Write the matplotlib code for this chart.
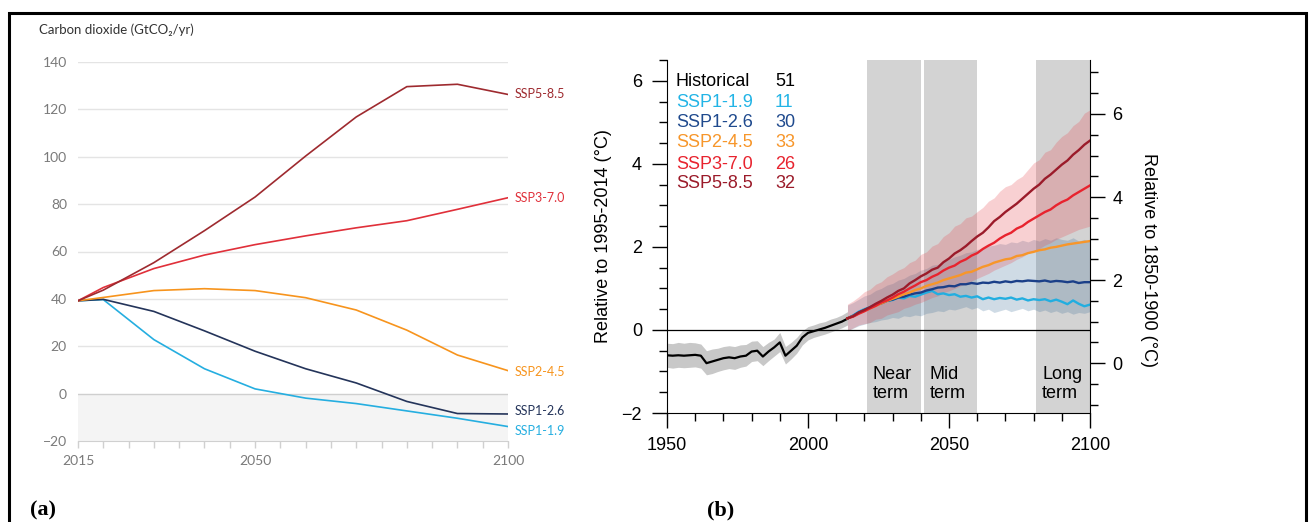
import matplotlib
matplotlib.use("Agg")
import matplotlib.pyplot as plt
import numpy as np
from matplotlib.patches import Rectangle
from matplotlib.ticker import MultipleLocator

# ---------------- data : panel (a) CO2 emissions ----------------
co2_years = [2015, 2020, 2030, 2040, 2050, 2060, 2070, 2080, 2090, 2100]
co2_ssp119 = [39.2, 39.7, 22.8, 10.5, 2.0, -1.9, -4.2, -7.3, -10.4, -13.9]
co2_ssp126 = [39.2, 39.8, 34.7, 26.5, 17.9, 10.5, 4.5, -3.3, -8.4, -8.6]
co2_ssp245 = [39.2, 40.6, 43.5, 44.3, 43.5, 40.5, 35.3, 26.8, 16.3, 9.7]
co2_ssp370 = [39.2, 44.8, 52.8, 58.5, 62.9, 66.6, 70.0, 73.0, 77.8, 82.7]
co2_ssp585 = [39.2, 43.7, 55.3, 68.8, 83.0, 100.3, 116.8, 129.6, 130.6, 126.3]
co2_names = ["SSP1-1.9", "SSP1-2.6", "SSP2-4.5", "SSP3-7.0", "SSP5-8.5"]

# ---------------- data : panel (b) temperature ----------------
hist_years = list(range(1950, 2015, 2))
hist_mean = [-0.61, -0.62, -0.61, -0.62, -0.61, -0.60, -0.62, -0.80, -0.76, -0.72,
             -0.68, -0.66, -0.68, -0.64, -0.62, -0.52, -0.50, -0.64, -0.52, -0.42,
             -0.30, -0.62, -0.50, -0.38, -0.18, -0.07, -0.03, 0.01, 0.05, 0.10,
             0.15, 0.20, 0.27]
hist_hi = [-0.32, -0.33, -0.30, -0.32, -0.30, -0.31, -0.34, -0.50, -0.46, -0.44,
           -0.40, -0.38, -0.40, -0.36, -0.35, -0.27, -0.26, -0.40, -0.30, -0.22,
           -0.06, -0.40, -0.30, -0.18, -0.02, 0.08, 0.12, 0.17, 0.20, 0.26,
           0.30, 0.36, 0.44]
hist_lo = [-0.90, -0.92, -0.90, -0.91, -0.90, -0.89, -0.92, -1.08, -1.05, -1.00,
           -0.96, -0.93, -0.95, -0.90, -0.87, -0.76, -0.74, -0.86, -0.74, -0.63,
           -0.52, -0.82, -0.70, -0.56, -0.36, -0.24, -0.18, -0.14, -0.10, -0.05,
           0.00, 0.05, 0.12]

fut_years = list(range(2014, 2101, 2))
t_ssp119 = [0.28, 0.35, 0.44, 0.50, 0.55, 0.62, 0.66, 0.70, 0.72, 0.78, 0.76,
            0.82, 0.80, 0.85, 0.90, 0.94, 0.86, 0.88, 0.84, 0.86, 0.80, 0.82,
            0.78, 0.81, 0.74, 0.78, 0.74, 0.77, 0.75, 0.78, 0.73, 0.76, 0.71,
            0.74, 0.72, 0.74, 0.69, 0.73, 0.68, 0.62, 0.71, 0.63, 0.57, 0.61]
t_ssp126 = [0.28, 0.34, 0.42, 0.48, 0.54, 0.60, 0.64, 0.70, 0.73, 0.78, 0.80,
            0.85, 0.88, 0.90, 0.95, 0.98, 1.02, 1.03, 1.06, 1.05, 1.10, 1.10,
            1.13, 1.11, 1.14, 1.13, 1.16, 1.14, 1.17, 1.15, 1.18, 1.17, 1.19,
            1.18, 1.17, 1.19, 1.16, 1.18, 1.17, 1.15, 1.17, 1.13, 1.15, 1.15]
t_ssp245 = [0.28, 0.33, 0.40, 0.46, 0.52, 0.58, 0.64, 0.70, 0.75, 0.80, 0.86,
            0.90, 0.96, 1.00, 1.06, 1.10, 1.14, 1.20, 1.24, 1.28, 1.32, 1.38,
            1.40, 1.46, 1.52, 1.56, 1.62, 1.66, 1.70, 1.72, 1.78, 1.80, 1.85,
            1.88, 1.92, 1.94, 1.98, 2.00, 2.03, 2.06, 2.08, 2.10, 2.12, 2.14]
t_ssp370 = [0.28, 0.32, 0.39, 0.45, 0.52, 0.58, 0.66, 0.71, 0.78, 0.86, 0.92,
            1.00, 1.07, 1.15, 1.20, 1.28, 1.34, 1.43, 1.50, 1.55, 1.64, 1.70,
            1.79, 1.85, 1.95, 2.03, 2.10, 2.20, 2.28, 2.34, 2.44, 2.50, 2.60,
            2.68, 2.76, 2.84, 2.90, 3.00, 3.08, 3.14, 3.24, 3.32, 3.40, 3.48]
t_ssp585 = [0.28, 0.33, 0.42, 0.48, 0.55, 0.63, 0.70, 0.78, 0.85, 0.94, 1.00,
            1.12, 1.20, 1.29, 1.36, 1.45, 1.50, 1.63, 1.72, 1.84, 1.92, 2.02,
            2.14, 2.25, 2.34, 2.47, 2.62, 2.72, 2.84, 2.94, 3.04, 3.16, 3.28,
            3.40, 3.50, 3.64, 3.74, 3.86, 3.98, 4.08, 4.22, 4.33, 4.46, 4.56]

# 5-95% ranges (only SSP1-2.6 and SSP3-7.0 are shaded)
t_ssp126_hi = [0.60, 0.66, 0.74, 0.82, 0.86, 0.95, 1.00, 1.08, 1.12, 1.20, 1.24,
               1.32, 1.36, 1.44, 1.48, 1.56, 1.58, 1.66, 1.70, 1.76, 1.80, 1.86,
               1.88, 1.94, 1.96, 2.02, 2.04, 2.08, 2.06, 2.12, 2.10, 2.16, 2.12,
               2.18, 2.14, 2.20, 2.16, 2.22, 2.18, 2.16, 2.22, 2.14, 2.18, 2.12]
t_ssp126_lo = [-0.02, 0.04, 0.10, 0.14, 0.18, 0.20, 0.24, 0.26, 0.30, 0.28, 0.34,
               0.32, 0.36, 0.34, 0.40, 0.42, 0.46, 0.44, 0.50, 0.48, 0.52, 0.56,
               0.50, 0.54, 0.46, 0.50, 0.42, 0.46, 0.50, 0.44, 0.48, 0.52, 0.46,
               0.50, 0.44, 0.48, 0.42, 0.46, 0.40, 0.44, 0.38, 0.42, 0.40, 0.44]
t_ssp370_hi = [0.62, 0.70, 0.80, 0.92, 0.98, 1.10, 1.16, 1.28, 1.35, 1.44, 1.50,
               1.62, 1.68, 1.82, 1.88, 2.02, 2.08, 2.25, 2.34, 2.50, 2.56, 2.70,
               2.74, 2.85, 2.95, 3.10, 3.18, 3.34, 3.45, 3.50, 3.62, 3.70, 3.86,
               4.02, 4.10, 4.28, 4.34, 4.52, 4.66, 4.75, 4.92, 5.02, 5.22, 5.30]
t_ssp370_lo = [-0.02, 0.05, 0.12, 0.15, 0.18, 0.26, 0.28, 0.36, 0.40, 0.44, 0.52,
               0.56, 0.62, 0.66, 0.72, 0.78, 0.82, 0.90, 0.94, 1.00, 1.06, 1.12,
               1.18, 1.24, 1.30, 1.36, 1.44, 1.50, 1.56, 1.62, 1.70, 1.76, 1.84,
               1.90, 1.96, 2.04, 2.10, 2.18, 2.24, 2.30, 2.36, 2.42, 2.46, 2.50]

legend_names = ["Historical", "SSP1-1.9", "SSP1-2.6", "SSP2-4.5", "SSP3-7.0", "SSP5-8.5"]
legend_counts = ["51", "11", "30", "33", "26", "32"]
terms = [("Near\nterm", 2021, 2040), ("Mid\nterm", 2041, 2060), ("Long\nterm", 2081, 2100)]
offset_pi = 0.8   # 1995-2014 relative to 1850-1900

# colours
a_cols = ["#25aee0", "#24345a", "#f7941d", "#e0303a", "#9e2a2f"]
b_cols = ["#22aee0", "#1b3f88", "#f7962a", "#e8232e", "#9b1b2a"]
b_text_cols = ["#000000", "#22b4e6", "#1f4a8e", "#f7962a", "#e8232e", "#9b1b2a"]

W, H = 1311, 522
fig = plt.figure(figsize=(W / 100, H / 100), dpi=100)

# ================= panel (a) =================
lato = ["Lato", "DejaVu Sans"]
ax1 = fig.add_axes([78 / W, 1 - 441 / H, 430 / W, 379 / H])
ax1.axhspan(-20, 0, color="#f4f4f4", lw=0, zorder=0)
for gy in range(20, 141, 20):
    ax1.axhline(gy, color="#e4e4e4", lw=1.0, zorder=1)
ax1.axhline(0, color="#cfcfcf", lw=1.0, zorder=1)

co2_series = [co2_ssp119, co2_ssp126, co2_ssp245, co2_ssp370, co2_ssp585]
label_dy = [-3, 2, -1, 0, 0]
for vals, name, col, dy in zip(co2_series, co2_names, a_cols, label_dy):
    ax1.plot(co2_years, vals, color=col, lw=1.2, zorder=3)
    ax1.annotate(name, xy=(co2_years[-1], vals[-1]), xytext=(5, dy),
                 textcoords="offset points", va="center", ha="left",
                 color=col, fontsize=9, family=lato, annotation_clip=False)

ax1.set_xlim(2015, 2100)
ax1.set_ylim(-20, 140)
for s in ["left", "right", "top"]:
    ax1.spines[s].set_visible(False)
ax1.spines["bottom"].set_color("#d0d0d0")
ax1.set_yticks(range(-20, 141, 20))
ax1.set_xticks([2015, 2050, 2100])
ax1.xaxis.set_minor_locator(MultipleLocator(5))
ax1.tick_params(axis="y", length=0, pad=8, labelsize=10, labelcolor="#7a7a7a")
ax1.tick_params(axis="x", which="both", length=5, color="#d0d0d0", width=1,
                pad=5, labelsize=10, labelcolor="#7a7a7a")
for lab in ax1.get_xticklabels() + ax1.get_yticklabels():
    lab.set_family(lato)
fig.text(39 / W, 1 - 30 / H, "Carbon dioxide (GtCO\u2082/yr)", ha="left", va="center",
         fontsize=9.5, color="#333333", family=lato)

# ================= panel (b) =================
arial = ["Liberation Sans", "DejaVu Sans"]
ax2 = fig.add_axes([667 / W, 1 - 413 / H, 423 / W, 353 / H])
for label, x0, x1 in terms:
    ax2.axvspan(x0, x1, color="#d3d3d3", lw=0, zorder=0)
    ax2.text(x0 + 2, -1.3, label, ha="left", va="center", fontsize=13,
             family=arial, linespacing=1.15, zorder=6)

ax2.fill_between(hist_years, hist_lo, hist_hi, color="#c8c8c8", lw=0, zorder=1)
ax2.fill_between(fut_years, t_ssp126_lo, t_ssp126_hi, color=(67 / 255, 115 / 255, 155 / 255),
                 alpha=0.25, lw=0, zorder=2)
ax2.fill_between(fut_years, t_ssp370_lo, t_ssp370_hi, color=(231 / 255, 71 / 255, 79 / 255),
                 alpha=0.25, lw=0, zorder=2)
ax2.axhline(0, color="black", lw=0.9, zorder=3)

ax2.plot(hist_years, hist_mean, color="black", lw=1.6, zorder=4)
t_series = [t_ssp119, t_ssp126, t_ssp245, t_ssp370, t_ssp585]
for vals, col in zip(t_series, b_cols):
    ax2.plot(fut_years, vals, color=col, lw=1.7, zorder=4)

# legend as plain text
row_y = [0.938, 0.881, 0.824, 0.765, 0.705, 0.649]
for name, cnt, col, ry in zip(legend_names, legend_counts, b_text_cols, row_y):
    ax2.text(0.021, ry, name, transform=ax2.transAxes, color=col, fontsize=13,
             family=arial, va="center", ha="left", zorder=6)
    ax2.text(0.255, ry, cnt, transform=ax2.transAxes, color=col, fontsize=13,
             family=arial, va="center", ha="left", zorder=6)

ax2.set_xlim(1950, 2100)
ax2.set_ylim(-2, 6.5)
ax2.spines["top"].set_visible(False)
ax2.spines["right"].set_visible(False)
ax2.set_xticks([1950, 2000, 2050, 2100])
ax2.xaxis.set_minor_locator(MultipleLocator(10))
ax2.set_yticks([-2, 0, 2, 4, 6])
ax2.yaxis.set_minor_locator(MultipleLocator(0.5))
ax2.tick_params(which="major", direction="out", length=11, width=1.0, labelsize=13)
ax2.tick_params(which="minor", direction="out", length=5.5, width=1.0)
ax2.tick_params(axis="y", pad=7)
ax2.tick_params(axis="x", pad=6)
for lab in ax2.get_xticklabels() + ax2.get_yticklabels():
    lab.set_family(arial)

ax3 = ax2.twinx()
ax3.set_ylim(-2 + offset_pi, 6.5 + offset_pi)
for s in ["top", "left", "bottom"]:
    ax3.spines[s].set_visible(False)
ax3.set_yticks([0, 2, 4, 6])
ax3.yaxis.set_minor_locator(MultipleLocator(0.5))
ax3.tick_params(which="major", direction="out", length=11, width=1.0, labelsize=13, pad=5)
ax3.tick_params(which="minor", direction="out", length=5.5, width=1.0)
for lab in ax3.get_yticklabels():
    lab.set_family(arial)

fig.text(603 / W, 1 - 236 / H, "Relative to 1995-2014 (\u00b0C)", rotation=90,
         ha="center", va="center", fontsize=13, family=arial)
fig.text(1148 / W, 1 - 260 / H, "Relative to 1850-1900 (\u00b0C)", rotation=270,
         ha="center", va="center", fontsize=13, family=arial)

# panel letters and frame
serif = ["Liberation Serif", "DejaVu Serif"]
fig.text(30 / W, 1 - 510 / H, "(a)", ha="left", va="center", fontsize=16,
         fontweight="bold", family=serif)
fig.text(707 / W, 1 - 510 / H, "(b)", ha="left", va="center", fontsize=16,
         fontweight="bold", family=serif)
fig.add_artist(Rectangle((8.5 / W, -0.05), (1305.5 - 8.5) / W, 1.05 - 13 / H,
                         transform=fig.transFigure, fill=False, lw=2.2,
                         edgecolor="black"))

fig.savefig("out.png", dpi=100)
